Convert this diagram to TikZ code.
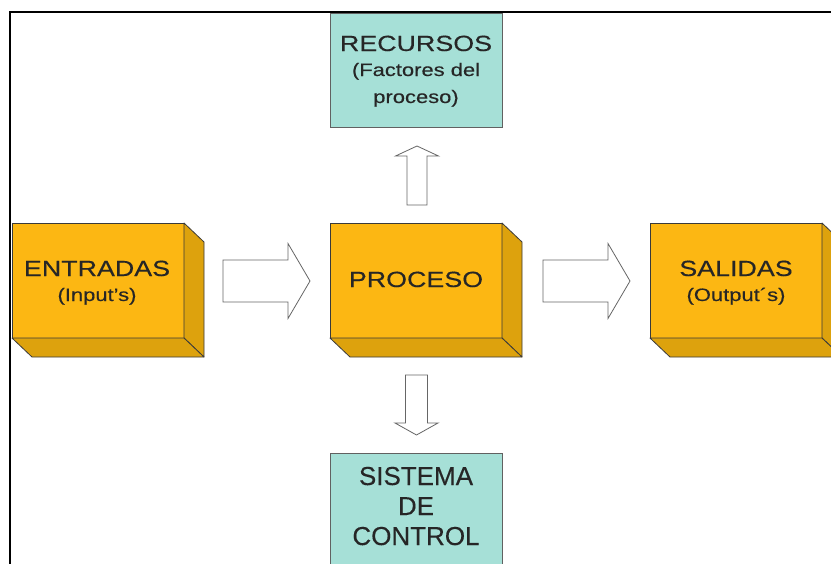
\documentclass[tikz,border=0pt]{standalone}
\usepackage{fontspec}
\setmainfont[FakeBold=0.3]{Liberation Sans}
\newfontfamily\widefont[FakeStretch=1.22,FakeBold=0.3]{Liberation Sans}
\definecolor{orfront}{HTML}{FCB713}
\definecolor{orside}{HTML}{DDA20D}
\definecolor{teal}{HTML}{A6E0D7}
\definecolor{edge}{HTML}{3A3A3A}
\begin{document}
\begin{tikzpicture}[x=1pt,y=-1pt,
  front/.style={draw=edge,line width=0.8pt,fill=orfront,minimum width=172pt,minimum height=115pt,inner sep=0pt,outer sep=0pt,anchor=north west},
  sidefc/.style={draw=edge,line width=0.8pt,fill=orside,line join=round},
  tealbox/.style={draw=edge!80,line width=0.8pt,fill=teal,minimum width=172pt,inner sep=0pt,outer sep=0pt,anchor=north west},
  big/.style={font=\widefont\fontsize{22}{24}\selectfont,text=black!85,inner sep=0pt,anchor=base},
  small/.style={font=\widefont\fontsize{18}{20}\selectfont,text=black!85,inner sep=0pt,anchor=base},
  ctl/.style={font=\fontsize{26}{28}\selectfont,text=black!85,inner sep=0pt,anchor=base},
  blk/.style={draw=black!60,line width=0.8pt,fill=white,line join=miter}]
\useasboundingbox (0,0) rectangle (831,563);
\fill[white] (0,0) rectangle (831,563);
% frame
\draw[line width=2pt,black] (10,570) -- (10,12) -- (840,12);
% recursos
\node[tealbox,minimum height=114pt] (rec) at (330,13) {};
\node[big] (recT) at (416,51) {RECURSOS};
\node[small] (recT2) at (416,76) {(Factores del};
\node[small] (recT3) at (416,103) {proceso)};
% sistema de control
\node[tealbox,minimum height=130pt] (sis) at (330,453) {};
\node[ctl] (sisT) at (416,485) {SISTEMA};
\node[ctl] (sisT2) at (416,515) {DE};
\node[ctl] (sisT3) at (416,545) {CONTROL};
% 3D boxes
\foreach \nm/\xx in {ent/12,pro/330,sal/650}{
  \node[front] (\nm) at (\xx,223) {};
  \draw[sidefc] (\nm.north east) -- ++(20,19) -- ++(0,115) -- ++(-20,-19) -- cycle;
  \draw[sidefc] (\nm.south west) -- ++(20,19) -- ++(172,0) -- ++(-20,-19) -- cycle;
}
\node[big] (entT) at (97,276) {ENTRADAS};
\node[small] (entT2) at (97,301) {(Input’s)};
\node[big] (proT) at (416,287) {PROCESO};
\node[big] (salT) at (736,276) {SALIDAS};
\node[small] (salT2) at (736,301) {(Output´s)};
% block arrows
\draw[blk] (223,260) -- (288,260) -- (288,243.5) -- (310,281) -- (288,318.5) -- (288,302) -- (223,302) -- cycle;
\draw[blk] (543,260) -- (608,260) -- (608,243.5) -- (630,281) -- (608,318.5) -- (608,302) -- (543,302) -- cycle;
\draw[blk] (407,205) -- (407,156) -- (395.5,156) -- (417,146) -- (438.5,156) -- (427,156) -- (427,205) -- cycle;
\draw[blk] (405.5,375) -- (427.5,375) -- (427.5,423) -- (438,423) -- (416.5,435) -- (395,423) -- (405.5,423) -- cycle;
\end{tikzpicture}
\end{document}
